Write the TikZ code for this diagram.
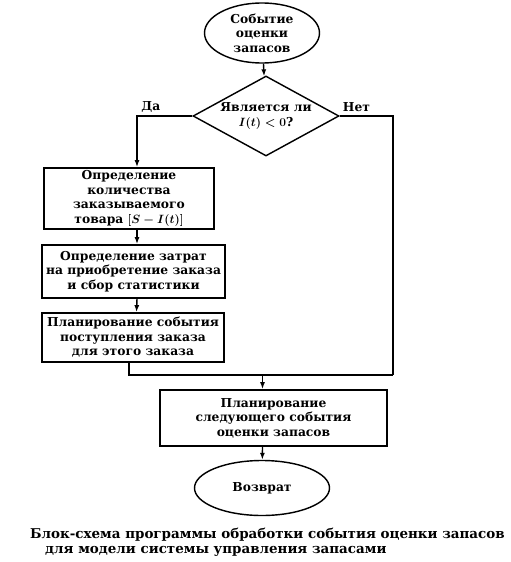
\documentclass[tikz,border=0pt]{standalone}
\usepackage{fontspec}
\setmainfont{DejaVu Serif}
\usepackage{tikz}
\usetikzlibrary{shapes.geometric,arrows.meta}

\begin{document}
\begin{tikzpicture}[x=1pt,y=-1pt,font=\fontsize{12.3}{14.5}\selectfont\bfseries\boldmath,
  blok/.style={draw, line width=0.6mm, align=center, inner sep=2pt},
  oval/.style={ellipse, draw, line width=0.5mm, align=center, inner sep=0pt},
  romb/.style={diamond, draw, line width=0.5mm, align=center, inner sep=0pt, aspect=1.8},
  liniya/.style={-, line width=0.5mm},
  strelka/.style={-{Latex[length=7pt,width=5pt]}, line width=0.5mm}]
\useasboundingbox (0,0) rectangle (511,562);

\node[oval, minimum width=115, minimum height=60] (start) at (262,33) {Событие\\оценки\\запасов};
\node[romb, minimum width=146, minimum height=80] (usl) at (266,116) {Является ли\\$I(t)<0$?};

\node[blok, minimum width=170, minimum height=61] (b1) at (129,198.5) {Определение\\количества\\заказываемого\\товара $[S-I(t)]$};
\node[blok, minimum width=183, minimum height=53] (b2) at (133.5,271.5) {Определение затрат\\на приобретение заказа\\и сбор статистики};
\node[blok, minimum width=182, minimum height=49] (b3) at (133,337.5) {Планирование события\\поступления заказа\\для этого заказа};
\node[blok, minimum width=227, minimum height=56] (b4) at (273.5,418) {Планирование\\следующего события\\оценки запасов};
\node[oval, minimum width=135, minimum height=55] (konec) at (262,488) {Возврат};

\node[anchor=north west, align=left, inner sep=0pt, font=\fontsize{13.45}{15}\selectfont\bfseries] (podpis) at (30,528) {Блок-схема программы обработки события оценки запасов\\\hspace*{15pt}для модели системы управления запасами};

\coordinate (ugol) at (393,375);

\draw[strelka] (start) -- (usl);
\draw[strelka] (usl.west) -| ([xshift=8pt]b1.north) node[pos=0.375, above] {Да};
\draw[liniya] (usl.east) -| (ugol) node[pos=0.157, above] {Нет};
\draw[strelka] ([xshift=8pt]b1.south) -- ([xshift=3.5pt]b2.north);
\draw[strelka] ([xshift=3.5pt]b2.south) -- ([xshift=3.5pt]b3.north);
\draw[liniya] ([xshift=-4pt]b3.south) |- (ugol);
\draw[strelka] ([xshift=-11pt]b4.north |- ugol) -- ([xshift=-11pt]b4.north);
\draw[strelka] ([xshift=-11pt]b4.south) -- (konec);

\end{tikzpicture}
\end{document}
